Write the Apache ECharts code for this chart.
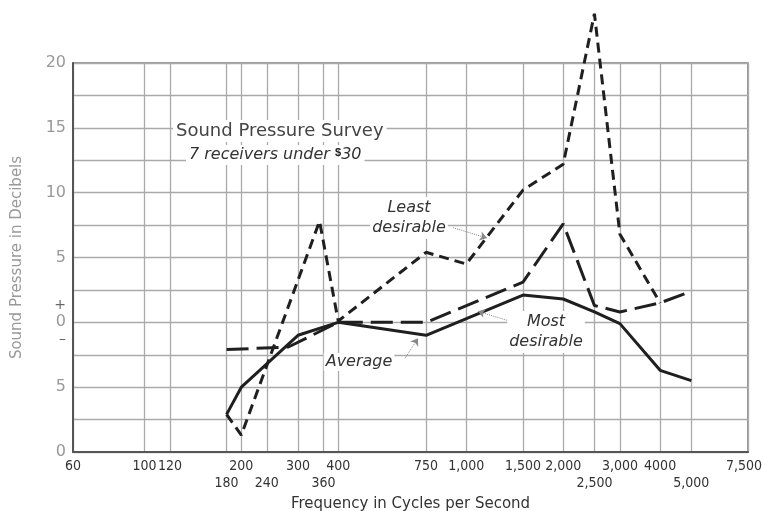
<!DOCTYPE html>
<html>
<head>
<meta charset="utf-8">
<script src="https://cdn.jsdelivr.net/npm/echarts@6/dist/echarts.min.js"></script>
<style>
  html, body { margin: 0; padding: 0; background: #fff; }
  #chart { width: 763px; height: 511px; }
</style>
</head>
<body>
<div id="chart"></div>
<script>
// values (dB re. the 400 cps level)
const leastFreq = [180, 200, 350, 400, 750, 1000, 1500, 2000, 2500, 3000, 4000]
const leastDb = [-7.1, -8.7, 7.8, 0.1, 5.4, 4.5, 10.2, 12.2, 23.8, 6.8, 1.5]
const avgFreq = [180, 280, 400, 750, 1500, 2000, 2500, 3000, 4000, 5000]
const avgDb = [-2.1, -1.9, 0, 0, 3.1, 7.6, 1.3, 0.8, 1.5, 2.4]
const mostFreq = [180, 200, 300, 400, 750, 1500, 2000, 2500, 3000, 4000, 5000]
const mostDb = [-7.1, -5.0, -1.0, 0, -1.0, 2.1, 1.8, 0.8, -0.1, -3.7, -4.5]

const xTicks = [60, 100, 120, 180, 200, 240, 300, 360, 400, 750, 1000, 1500, 2000, 2500, 3000, 4000, 5000, 7500]
const xTickText = ['60', '100', '120', '180', '200', '240', '300', '360', '400', '750', '1,000', '1,500', '2,000', '2,500', '3,000', '4000', '5,000', '7,500']
const xLowRow = [180, 240, 360, 2500, 5000]
const yTicks = [20, 15, 10, 5, 0, -5, -10]
const yTickText = ['20', '15', '10', '5', '0', '5', '0']

const pairs = (f, v) => f.map((x, i) => [x, v[i]])

const chart = echarts.init(document.getElementById('chart'))
const ink = '#1f1f1f'
const italic = 'italic 16px "DejaVu Sans", sans-serif'

chart.setOption({
  backgroundColor: '#fff',
  animation: false,
  grid: { left: 73, right: 15, top: 63, bottom: 59, outerBoundsMode: 'none', containLabel: false, show: true, borderColor: '#777', borderWidth: 1.5 },
  xAxis: {
    type: 'log',
    logBase: 10,
    min: 60,
    max: 7500,
    name: 'Frequency in Cycles per Second',
    nameLocation: 'middle',
    nameGap: 38,
    nameTextStyle: { color: '#333', fontSize: 15, fontFamily: 'DejaVu Sans' },
    axisLine: { show: true, onZero: false, lineStyle: { color: '#555', width: 2 } },
    axisTick: { show: false, customValues: xTicks },
    axisLabel: {
      customValues: xTicks,
      margin: 6,
      color: '#333',
      fontSize: 14,
      lineHeight: 17,
      fontFamily: '"Liberation Sans Narrow", "DejaVu Sans Condensed", sans-serif',
      formatter (v) {
        const i = xTicks.indexOf(Math.round(v))
        const t = i >= 0 ? xTickText[i] : ''
        if (Math.round(v) === 7500) return '{r|' + t + '}'
        return xLowRow.indexOf(Math.round(v)) >= 0 ? '\n' + t : t
      },
      rich: { r: { padding: [0, 8, 0, 0], fontSize: 14, lineHeight: 17, color: '#333' } }
    },
    splitLine: { show: true, lineStyle: { color: '#aaa', width: 1.3 } },
    minorSplitLine: { show: false }
  },
  yAxis: {
    type: 'value',
    min: -10,
    max: 20,
    interval: 2.5,
    name: 'Sound Pressure in Decibels',
    nameLocation: 'middle',
    nameGap: 48,
    nameTextStyle: { color: '#999', fontSize: 15, fontFamily: 'DejaVu Sans' },
    axisLine: { show: true, onZero: false, lineStyle: { color: '#555', width: 2 } },
    axisTick: { show: false },
    axisLabel: {
      color: '#999',
      fontSize: 16,
      lineHeight: 17,
      margin: 7,
      fontFamily: 'DejaVu Sans',
      formatter (v) {
        const i = yTicks.indexOf(v)
        if (i < 0) return ''
        if (v === 0) return '{pm|+}\n' + yTickText[i] + '\n{pm|–}'
        return yTickText[i]
      },
      rich: { pm: { color: '#666', fontSize: 14, lineHeight: 17 } }
    },
    splitLine: { show: true, lineStyle: { color: '#aaa', width: 1.3 } }
  },
  series: [
    {
      name: 'Least desirable',
      type: 'line',
      symbol: 'none',
      clip: false,
      lineStyle: { color: ink, width: 3, type: [10, 6] },
      data: pairs(leastFreq, leastDb),
      markLine: {
        silent: true,
        symbol: ['none', 'arrow'],
        symbolSize: 7,
        label: { show: false },
        lineStyle: { color: '#888', width: 1, type: 'dotted' },
        data: [
          [{ coord: [910, 7.3] }, { coord: [1159, 6.5] }],
          [{ coord: [1339, 0.15] }, { coord: [1087, 0.85] }],
          [{ coord: [645, -2.77] }, { coord: [708, -1.23] }]
        ]
      }
    },
    {
      name: 'Average',
      type: 'line',
      symbol: 'none',
      lineStyle: { color: ink, width: 3, type: [22, 8] },
      data: pairs(avgFreq, avgDb)
    },
    {
      name: 'Most desirable',
      type: 'line',
      symbol: 'none',
      lineStyle: { color: ink, width: 3 },
      data: pairs(mostFreq, mostDb)
    }
  ],
  graphic: [
    { type: 'text', z: 100, style: { text: 'Sound Pressure Survey', x: 173, y: 131, verticalAlign: 'middle', font: '18px "DejaVu Sans", sans-serif', fill: '#444', backgroundColor: '#fff', padding: [2, 3] } },
    { type: 'text', z: 100, style: { text: '7 receivers under {d|$}30', x: 186, y: 155, verticalAlign: 'middle', font: italic, fill: '#333', backgroundColor: '#fff', padding: [2, 3], rich: { d: { fontSize: 11, fontWeight: 'bold', verticalAlign: 'top', fill: '#222' } } } },
    { type: 'text', z: 100, style: { text: 'Least\ndesirable', x: 409, y: 218, align: 'center', verticalAlign: 'middle', lineHeight: 20, font: italic, fill: '#333', backgroundColor: '#fff', padding: [1, 2] } },
    { type: 'text', z: 100, style: { text: 'Most\ndesirable', x: 546, y: 332, align: 'center', verticalAlign: 'middle', lineHeight: 20, font: italic, fill: '#333', backgroundColor: '#fff', padding: [1, 2] } },
    { type: 'text', z: 100, style: { text: 'Average', x: 359, y: 362, align: 'center', verticalAlign: 'middle', font: italic, fill: '#333', backgroundColor: '#fff', padding: [1, 2] } }
  ]
})
</script>
</body>
</html>
